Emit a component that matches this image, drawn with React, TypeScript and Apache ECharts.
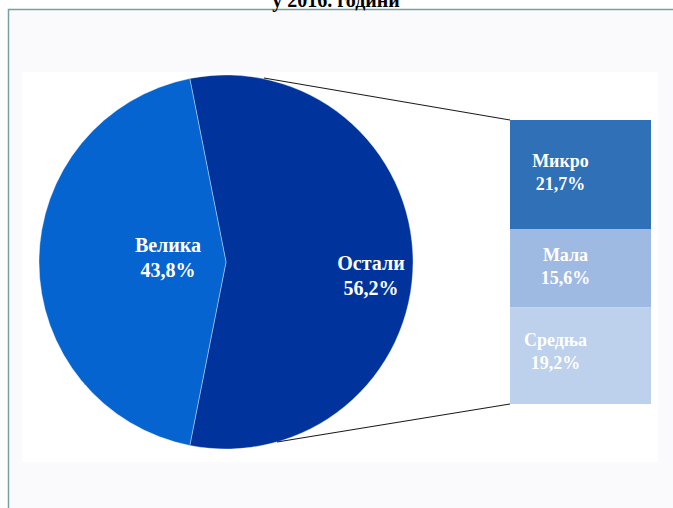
import React, { useEffect, useRef } from "react";
import * as echarts from "echarts";

const titleText = "у 2016. години";
const pieNames = ["Велика", "Остали"];
const pieValues = [43.8, 56.2];
const pieColors = ["#0564d0", "#00339b"];
const barNames = ["Микро", "Мала", "Средња"];
const barValues = [21.7, 15.6, 19.2];
const barColors = ["#2f70b6", "#9fbae2", "#bdd0ec"];

const FONT = "'Liberation Serif', 'Times New Roman', serif";
const fmt = (v: number) => v.toFixed(1).replace(".", ",") + "%";

export default function App() {
  const ref = useRef<HTMLDivElement>(null);
  useEffect(() => {
    if (!ref.current) return;
    const chart = echarts.init(ref.current, null, { renderer: "svg" });
    const velikaShare = pieValues[0] / (pieValues[0] + pieValues[1]);
    const startAngle = 180 - (velikaShare * 360) / 2;
    const pieLabelPos = [
      { x: 168, y: 257 },
      { x: 371, y: 275 },
    ];
    const barLabelOffsets = [
      [-20, -2],
      [-15, -2],
      [-25, -4],
    ];
    const barSum = barValues.reduce((a, b) => a + b, 0);
    const pieData = [1, 0].map((i) => ({
      name: pieNames[i],
      value: pieValues[i],
      idx: i,
      itemStyle: { color: pieColors[i] },
    }));
    chart.setOption({
      animation: false,
      backgroundColor: "#ffffff",
      graphic: [
        {
          type: "rect",
          z: -10,
          silent: true,
          shape: { x: 8.5, y: 9.5, width: 680, height: 520 },
          style: { fill: "#fafafd", stroke: "#74a2a2", lineWidth: 1.5 },
        },
        {
          type: "rect",
          z: -9,
          silent: true,
          shape: { x: 22, y: 72, width: 636, height: 390 },
          style: { fill: "#ffffff" },
        },
        {
          type: "text",
          x: 336,
          y: 10,
          style: {
            text: titleText,
            font: `bold 20px ${FONT}`,
            fill: "#000000",
            align: "center",
            verticalAlign: "bottom",
          },
        },
        {
          type: "line",
          z: 5,
          shape: { x1: 264, y1: 78, x2: 510, y2: 120 },
          style: { stroke: "#1a1a1a", lineWidth: 1.2 },
        },
        {
          type: "line",
          z: 5,
          shape: { x1: 277, y1: 442, x2: 510, y2: 404 },
          style: { stroke: "#1a1a1a", lineWidth: 1.2 },
        },
      ],
      grid: { left: 510, top: 120, width: 141, height: 284 },
      xAxis: { type: "category", data: [""], show: false },
      yAxis: { type: "value", min: 0, max: barSum, inverse: true, show: false },
      series: [
        {
          type: "pie",
          center: [226, 262],
          radius: 187,
          startAngle,
          clockwise: true,
          silent: true,
          itemStyle: { borderColor: "rgba(255,255,255,0.45)", borderWidth: 0.8 },
          label: {
            show: true,
            position: "inside",
            color: "#ffffff",
            fontFamily: FONT,
            fontWeight: "bold",
            fontSize: 20,
            lineHeight: 25,
            align: "center",
            formatter: (p: any) => `${p.name}\n${fmt(p.value)}`,
          },
          labelLayout: (p: any) => {
            const i = pieData[p.dataIndex].idx;
            return { x: pieLabelPos[i].x, y: pieLabelPos[i].y, align: "center", verticalAlign: "middle" };
          },
          data: pieData,
        },
        ...barNames.map((n, i) => ({
          type: "bar",
          name: n,
          stack: "rest",
          barWidth: "100%",
          silent: true,
          itemStyle: { color: barColors[i] },
          label: {
            show: true,
            position: "inside",
            offset: barLabelOffsets[i],
            color: "#ffffff",
            fontFamily: FONT,
            fontWeight: "bold",
            fontSize: 18,
            lineHeight: 23,
            formatter: () => `${n}\n${fmt(barValues[i])}`,
          },
          data: [barValues[i]],
        })),
      ],
    });
    return () => chart.dispose();
  }, []);
  return (
    <div
      ref={ref}
      style={{ position: "fixed", left: 0, top: 0, width: 673, height: 508 }}
    />
  );
}
